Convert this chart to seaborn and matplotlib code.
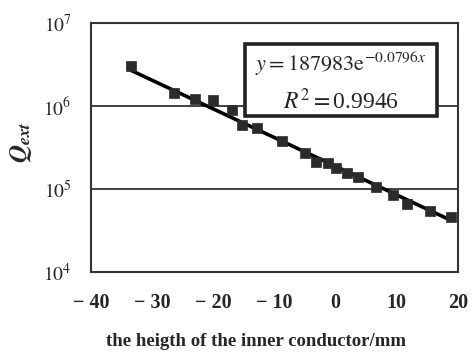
import numpy as np
import pandas as pd
import matplotlib
matplotlib.use("Agg")
import matplotlib.pyplot as plt
import matplotlib.patches as mpatches
import seaborn as sns

# ---- data ----
height_mm = [-33.5, -26.4, -23.0, -20.1, -17.0, -15.3, -12.9, -8.8, -5.0, -3.2,
             -1.2, 0.0, 1.9, 3.7, 6.6, 9.4, 11.6, 15.4, 18.9]
q_ext = [3.06e6, 1.45e6, 1.21e6, 1.18e6, 8.96e5, 5.9e5, 5.38e5, 3.82e5, 2.74e5,
         2.13e5, 2.04e5, 1.77e5, 1.57e5, 1.38e5, 1.07e5, 8.47e4, 6.6e4, 5.43e4, 4.56e4]
fit_a = 187983
fit_b = -0.0796
r_squared = 0.9946
x_tick_values = [-40, -35, -30, -25, -20, -15, -10, -5, 0, 5, 10, 15, 20]
x_tick_labels = ["\u2212 40", "", "\u2212 30", "", "\u2212 20", "", "\u2212 10", "",
                 "0", "", "10", "", "20"]
y_tick_values = [1e4, 1e5, 1e6, 1e7]
y_tick_labels = [r"$10^{4}$", r"$10^{5}$", r"$10^{6}$", r"$10^{7}$"]

df = pd.DataFrame({"h": height_mm, "q": q_ext})
fit_x = np.linspace(min(height_mm), max(height_mm), 100)
fit_df = pd.DataFrame({"h": fit_x, "q": fit_a * np.exp(fit_b * fit_x)})

sns.set_style("white")
plt.rcParams["font.family"] = ["Liberation Serif", "DejaVu Serif"]
plt.rcParams["mathtext.fontset"] = "stix"

fig = plt.figure(figsize=(4.72, 3.56), dpi=100)
ax = fig.add_axes([0.1928, 0.236, 0.7775, 0.699])

sns.lineplot(data=fit_df, x="h", y="q", ax=ax, color="black", linewidth=2.6, zorder=2)
sns.scatterplot(data=df, x="h", y="q", ax=ax, marker="s", s=62, color="#2b2b2b",
                edgecolor="#2b2b2b", linewidth=0.5, zorder=3)

ax.set_yscale("log")
ax.set_xlim(-40, 20)
ax.set_ylim(1e4, 1e7)
ax.set_xticks(x_tick_values)
ax.set_xticklabels(x_tick_labels, fontsize=14.5, fontweight="bold")
ax.set_yticks(y_tick_values)
ax.set_yticklabels(y_tick_labels, fontsize=14)
ax.minorticks_off()
ax.tick_params(axis="x", direction="in", length=4, width=1.6, pad=15, color="#222222")
ax.tick_params(axis="y", length=0, pad=14)
ax.yaxis.grid(True, color="#333333", linewidth=1.3)
ax.xaxis.grid(False)
ax.set_axisbelow(True)
for s in ax.spines.values():
    s.set_visible(True)
    s.set_color("#333333")
    s.set_linewidth(1.5)

ax.set_xlabel("")
ax.set_ylabel("")
fig.text(0.543, 0.04, "the heigth of the inner conductor/mm", ha="center", va="center",
         fontsize=13.5, fontweight="bold")
fig.text(0.045, 0.60, r"$\mathbfit{Q}_{\mathbfit{ext}}$", rotation=90, ha="center",
         va="center", fontsize=18)

box = mpatches.Rectangle((0.42, 0.627), 0.522, 0.291, transform=ax.transAxes,
                         facecolor="white", edgecolor="#222222", linewidth=2.6, zorder=4)
ax.add_patch(box)
eq_text = r"$y = %d\mathrm{e}^{-%.4fx}$" % (fit_a, -fit_b)
ax.text(0.68, 0.835, eq_text, transform=ax.transAxes, ha="center", va="center",
        fontsize=16, zorder=5)
ax.text(0.68, 0.685, r"$R^{2} = $" + f"{r_squared:.4f}", transform=ax.transAxes,
        ha="center", va="center", fontsize=17, zorder=5)

fig.savefig("out.png", dpi=100, facecolor="white")
